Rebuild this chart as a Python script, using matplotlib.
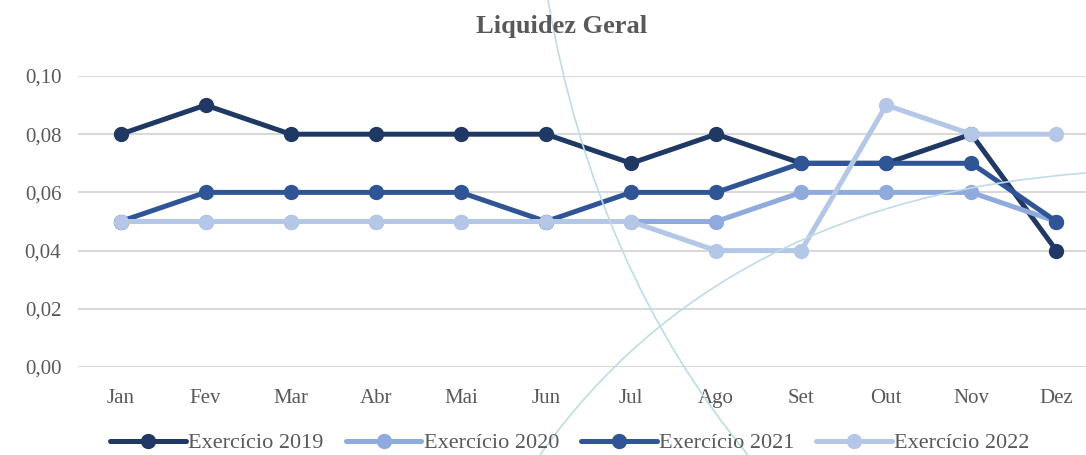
import matplotlib
matplotlib.use('Agg')
import matplotlib.pyplot as plt
from matplotlib.path import Path
from matplotlib.patches import PathPatch
from matplotlib.ticker import FuncFormatter

meses = ['Jan', 'Fev', 'Mar', 'Abr', 'Mai', 'Jun', 'Jul', 'Ago', 'Set', 'Out', 'Nov', 'Dez']
ex_2019 = [0.08, 0.09, 0.08, 0.08, 0.08, 0.08, 0.07, 0.08, 0.07, 0.07, 0.08, 0.04]
ex_2020 = [0.05, 0.05, 0.05, 0.05, 0.05, 0.05, 0.05, 0.05, 0.06, 0.06, 0.06, 0.05]
ex_2021 = [0.05, 0.06, 0.06, 0.06, 0.06, 0.05, 0.06, 0.06, 0.07, 0.07, 0.07, 0.05]
ex_2022 = [0.05, 0.05, 0.05, 0.05, 0.05, 0.05, 0.05, 0.04, 0.04, 0.09, 0.08, 0.08]

series = [('Exercício 2019', ex_2019, '#203864'),
          ('Exercício 2020', ex_2020, '#8FAADC'),
          ('Exercício 2021', ex_2021, '#2F5597'),
          ('Exercício 2022', ex_2022, '#B4C7E7')]

plt.rcParams['font.family'] = 'Liberation Serif'
W, H = 1086, 455
fig = plt.figure(figsize=(W / 100, H / 100), dpi=100)

# decorative background arcs of the slide (pixel coords -> figure fraction)
def arc(p0, p1, p2):
    pts = [(x / W, 1 - y / H) for x, y in (p0, p1, p2)]
    path = Path(pts, [Path.MOVETO, Path.CURVE3, Path.CURVE3])
    fig.patches.append(PathPatch(path, transform=fig.transFigure, fill=False,
                                 edgecolor='#BFDCE6', lw=1.2, zorder=0))

arc((548, 0), (595, 270), (748, 455))
arc((540, 455), (720, 200), (1086, 173))

ax = fig.add_axes([78 / W, 1 - 367 / H, 1021 / W, 291 / H])
ax.patch.set_alpha(0)
x = range(len(meses))
for nome, vals, cor in series:
    ax.plot(x, vals, color=cor, lw=3.6, marker='o', markersize=10,
            label=nome, solid_capstyle='round')

ax.set_xlim(-0.5, 11.5)
ax.set_ylim(0, 0.10)
ax.set_yticks([0, 0.02, 0.04, 0.06, 0.08, 0.10])
ax.yaxis.set_major_formatter(FuncFormatter(lambda v, p: f'{v:.2f}'.replace('.', ',')))
ax.set_xticks(list(x))
ax.set_xticklabels(meses)
ax.grid(axis='y', color='#D9D9D9', lw=1.5)
ax.set_axisbelow(True)
for s in ax.spines.values():
    s.set_visible(False)
ax.tick_params(length=0, labelsize=15, colors='#595959')
ax.tick_params(axis='x', pad=16)
ax.tick_params(axis='y', pad=12)

fig.text(562 / W, 1 - 27 / H, 'Liquidez Geral', ha='center', va='center',
         fontsize=19, fontweight='bold', color='#595959')

fig.legend(loc='center', bbox_to_anchor=(570 / W, 1 - 443 / H), ncol=4,
           frameon=False, fontsize=16, labelcolor='#595959',
           handlelength=3.4, handletextpad=0.1, columnspacing=1.0)

fig.savefig('out.png', dpi=100)
